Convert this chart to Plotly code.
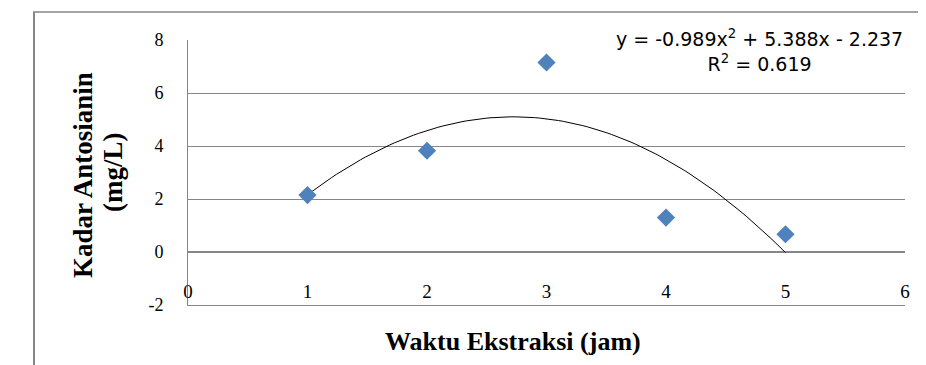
import numpy as np
import plotly.graph_objects as go

# ---- data ----
waktu_jam = [1, 2, 3, 4, 5]
kadar_antosianin = [2.15, 3.82, 7.15, 1.30, 0.67]
trend_coeffs = [-0.989, 5.388, -2.237]  # from the chart's equation label
x_ticks = [0, 1, 2, 3, 4, 5, 6]
y_ticks = [-2, 0, 2, 4, 6, 8]
equation_text = "y = -0.989x<sup>2</sup> + 5.388x - 2.237"
r2_text = "R<sup>2</sup> = 0.619"

# ---- geometry (screen pixels; the page body adds an 8px offset) ----
O = 8
W, H = 926 - O, 365 - O
L, R, T, B = 188 - O, 905 - O, 40 - O, 305 - O
pw, ph = R - L, B - T


def px(xs):
    return (xs - O - L) / pw


def py(ys):
    return (B - (ys - O)) / ph


x_fit = np.linspace(min(waktu_jam), max(waktu_jam), 100)
y_fit = np.polyval(trend_coeffs, x_fit)

fig = go.Figure()
fig.add_trace(go.Scatter(
    x=x_fit, y=y_fit, mode="lines",
    line=dict(color="black", width=1), hoverinfo="skip", showlegend=False))
fig.add_trace(go.Scatter(
    x=waktu_jam, y=kadar_antosianin, mode="markers",
    marker=dict(symbol="diamond", size=14, color="#4F81BD",
                line=dict(width=0)),
    showlegend=False))

serif = "Liberation Serif"
fig.update_layout(
    width=W, height=H,
    margin=dict(l=L, r=W - R, t=T, b=H - B, pad=0),
    paper_bgcolor="white", plot_bgcolor="white",
    showlegend=False,
    xaxis=dict(range=[0, 6], tickvals=x_ticks, ticktext=[str(v) for v in x_ticks],
               showgrid=False, zeroline=False, showline=True,
               linecolor="#868686", linewidth=1,
               ticks="", ticklabelposition="inside",
               ticklabeloverflow="allow", ticklabelstandoff=4,
               tickfont=dict(family=serif, size=19, color="black")),
    yaxis=dict(range=[-2, 8], tickvals=y_ticks, ticktext=[str(v) for v in y_ticks],
               showgrid=True, gridcolor="#868686", gridwidth=1,
               zeroline=True, zerolinecolor="#868686", zerolinewidth=2,
               showline=True, linecolor="#868686", linewidth=1,
               ticks="", ticklabelstandoff=20,
               tickfont=dict(family=serif, size=18, color="black")),
    shapes=[
        dict(type="line", xref="paper", yref="paper",
             x0=px(34), x1=px(34), y0=py(12), y1=py(370),
             line=dict(color="#868686", width=2)),
        dict(type="line", xref="paper", yref="paper",
             x0=px(33), x1=px(930), y0=py(12), y1=py(12),
             line=dict(color="#868686", width=1.5)),
    ],
    annotations=[
        dict(xref="paper", yref="paper", x=px(759), y=py(50),
             text=equation_text + "<br>" + r2_text, showarrow=False,
             font=dict(family="DejaVu Sans", size=19, color="black"),
             align="center", xanchor="center", yanchor="middle",
             bgcolor="white"),
        dict(xref="paper", yref="paper", x=px(83), y=py(175),
             text="Kadar Antosianin", showarrow=False, textangle=-90,
             font=dict(family=serif, size=27, color="black", weight="bold"),
             xanchor="center", yanchor="middle"),
        dict(xref="paper", yref="paper", x=px(113), y=py(173),
             text="(mg/L)", showarrow=False, textangle=-90,
             font=dict(family=serif, size=27, color="black", weight="bold"),
             xanchor="center", yanchor="middle"),
        dict(xref="paper", yref="paper", x=px(513), y=py(341),
             text="Waktu Ekstraksi (jam)", showarrow=False,
             font=dict(family=serif, size=26, color="black", weight="bold"),
             xanchor="center", yanchor="middle"),
    ],
)

fig.write_html("out.html")
